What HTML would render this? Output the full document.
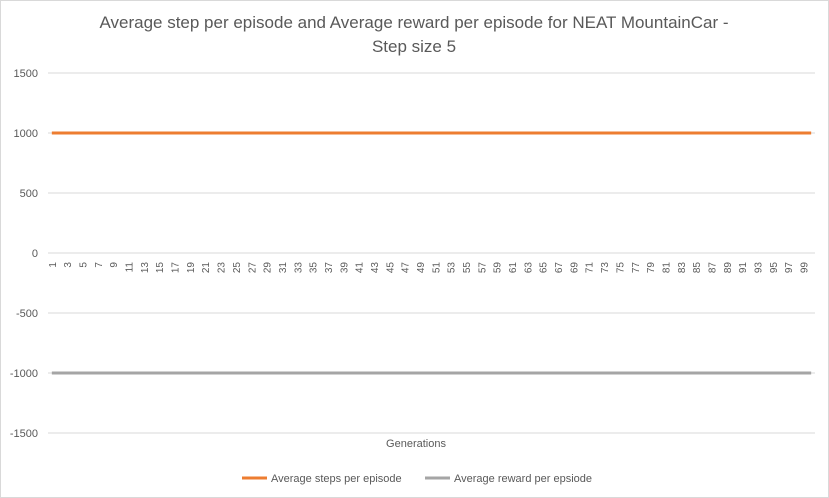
<!DOCTYPE html>
<html><head><meta charset="utf-8"><style>
body{margin:0;background:#fff;font-family:"Liberation Sans",sans-serif}
#c{position:absolute;left:0;top:0;width:827px;height:496px;border:1px solid #d9d9d9}
</style></head><body>
<div id="c"></div>
<svg id="s" width="829" height="498" style="position:absolute;left:0;top:0"></svg>
<script>
const categories=[];for(let i=1;i<=100;i++)categories.push(i);
const steps=Array(100).fill(1000);
const rewards=Array(100).fill(-1000);
const yTicks=[1500,1000,500,0,-500,-1000,-1500];
const NS="http://www.w3.org/2000/svg",s=document.getElementById('s');
const x0=48,x1=815,bw=(x1-x0)/categories.length;
const X=i=>x0+bw*(i+0.5);
const Y=v=>253-v*60/500;
function el(t,a,txt){const e=document.createElementNS(NS,t);for(const k in a)e.setAttribute(k,a[k]);if(txt!=null)e.textContent=txt;s.appendChild(e);return e;}
let t=el('text',{x:414,y:28,'text-anchor':'middle','font-size':17,fill:'#595959'},'Average step per episode and Average reward per episode for NEAT MountainCar -');

t=el('text',{x:414,y:52,'text-anchor':'middle','font-size':17,fill:'#595959'},'Step size 5');

yTicks.forEach(v=>{
 const g=el('line',{x1:x0,x2:x1,y1:Y(v),y2:Y(v),stroke:'#d9d9d9','stroke-width':1});
 
 const l=el('text',{x:38,y:Y(v)+4,'text-anchor':'end','font-size':11,fill:'#595959'},v);
 
});
categories.forEach((c,i)=>{if(c%2===0)return;
 const l=el('text',{transform:`translate(${X(i)+4},262) rotate(-90)`,'text-anchor':'end','font-size':10,fill:'#595959'},c);
 
});
function line(d,col,name){const p=el('polyline',{points:d.map((v,i)=>X(i)+','+Y(v)).join(' '),fill:'none',stroke:col,'stroke-width':3});
 }
line(steps,'#ed7d31','steps-series');
line(rewards,'#a5a5a5','reward-series');
t=el('text',{x:416,y:447,'text-anchor':'middle','font-size':11,fill:'#595959'},'Generations');

[[242,'#ed7d31','Average steps per episode'],[425,'#a5a5a5','Average reward per epsiode']].forEach(([x,c,txt])=>{
 const l=el('line',{x1:x,x2:x+25,y1:478,y2:478,stroke:c,'stroke-width':3});
 
 const tx=el('text',{x:x+29,y:482,'font-size':11,fill:'#595959'},txt);
 
});
</script>
</body></html>
